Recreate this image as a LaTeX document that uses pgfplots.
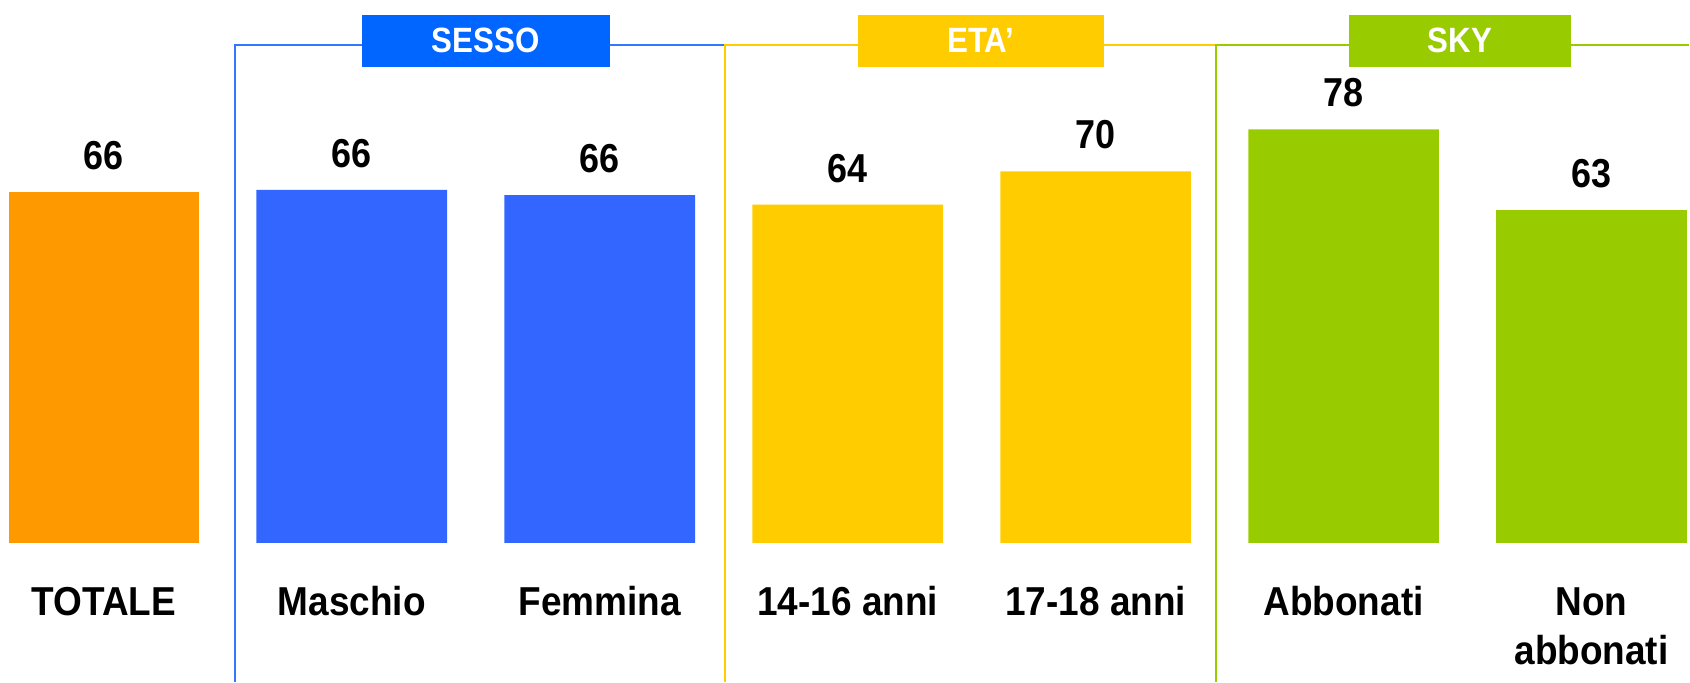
\documentclass[border=0pt]{standalone}
\usepackage{fontspec}
\setmainfont{Liberation Sans}[FakeStretch=0.89]
\newfontfamily\catfam{Liberation Sans}[FakeStretch=0.915]
\usepackage{pgfplots}
\pgfplotsset{compat=1.18}
\definecolor{cOrange}{HTML}{FF9900}
\definecolor{cBlue}{HTML}{3366FF}
\definecolor{cBlueBox}{HTML}{0066FF}
\definecolor{cBlueLine}{HTML}{3377FF}
\definecolor{cYellow}{HTML}{FFCC00}
\definecolor{cGreen}{HTML}{99CC00}
\newcommand{\lblfont}{\bfseries\fontsize{11.5}{13.4}\selectfont}
\newcommand{\catfont}{\catfam\bfseries\fontsize{11.5}{13.4}\selectfont}
\newcommand{\boxfont}{\bfseries\fontsize{10}{12}\selectfont}
\begin{document}
\begin{tikzpicture}
\begin{axis}[
  scale only axis, width=169mm, height=68.2mm,
  xmin=-0.419, xmax=6.393, ymin=-26.17, ymax=102.43,
  axis line style={draw=none}, xtick=\empty, ytick=\empty,
  clip=false,
  ybar, bar width=0.769, bar shift=0pt,
  nodes near coords, point meta=explicit symbolic,
  every node near coord/.append style={font=\lblfont, anchor=center, yshift=3.66mm, text=black},
]
\path (rel axis cs:0,0) rectangle (rel axis cs:1,1);
\addplot[fill=cOrange, draw=none] coordinates {(0,66.2) [66]};
\addplot[fill=cBlue, draw=none] coordinates {(1,66.6) [66] (2,65.6) [66]};
\addplot[fill=cYellow, draw=none] coordinates {(3,63.8) [64] (4,70.1) [70]};
\addplot[fill=cGreen, draw=none] coordinates {(5,78.0) [78] (6,62.8) [63]};

% group brackets
\draw[cBlueLine, line width=0.6pt] (axis cs:0.528,-26.17) -- (axis cs:0.528,93.89) -- (axis cs:2.505,93.89);
\draw[cYellow, line width=0.6pt] (axis cs:2.505,-26.17) -- (axis cs:2.505,93.89) -- (axis cs:4.486,93.89);
\draw[cGreen, line width=0.6pt] (axis cs:4.486,-26.17) -- (axis cs:4.486,93.89) -- (axis cs:6.393,93.89);

\node[fill=cBlueBox, text=white, font=\boxfont, minimum width=24.8mm, minimum height=5.17mm, inner sep=0pt] at (axis cs:1.54,94.71) {SESSO};
\node[fill=cYellow, text=white, font=\boxfont, minimum width=24.68mm, minimum height=5.17mm, inner sep=0pt] at (axis cs:3.537,94.71) {ETA’};
\node[fill=cGreen, text=white, font=\boxfont, minimum width=22.2mm, minimum height=5.17mm, inner sep=0pt] at (axis cs:5.47,94.71) {SKY};

% category labels
\node[font=\catfont, anchor=base] at (axis cs:0,-13.62) {TOTALE};
\node[font=\catfont, anchor=base] at (axis cs:1,-13.62) {Maschio};
\node[font=\catfont, anchor=base] at (axis cs:2,-13.62) {Femmina};
\node[font=\catfont, anchor=base] at (axis cs:3,-13.62) {14-16 anni};
\node[font=\catfont, anchor=base] at (axis cs:4,-13.62) {17-18 anni};
\node[font=\catfont, anchor=base] at (axis cs:5,-13.62) {Abbonati};
\node[font=\catfont, anchor=base] at (axis cs:6,-13.62) {Non};
\node[font=\catfont, anchor=base] at (axis cs:6,-22.9) {abbonati};
\end{axis}
\end{tikzpicture}
\end{document}
